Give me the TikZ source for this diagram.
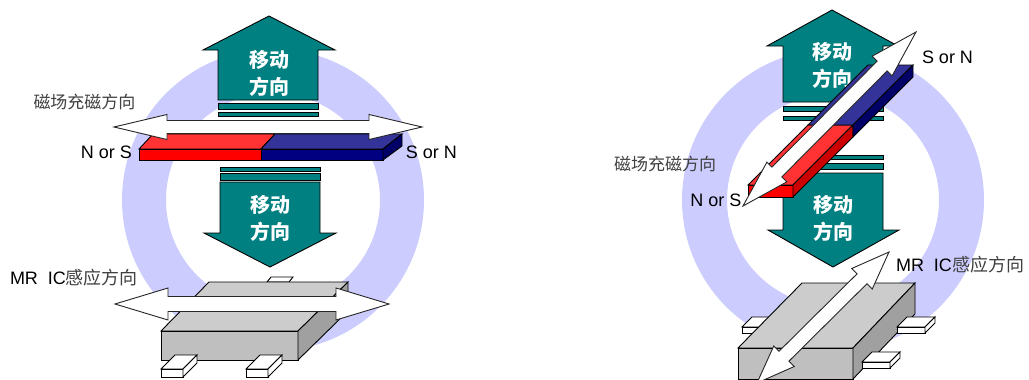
\documentclass[tikz,border=0pt]{standalone}
\usepackage{fontspec}
\setmainfont{Liberation Sans}
\newfontfamily\cjk{Noto Sans CJK SC}
\usepackage{tikz}
\usetikzlibrary{positioning,calc}
\usepackage{xcolor}

\definecolor{ringcol}{HTML}{CCCCFF}
\definecolor{movecol}{HTML}{008080}
\definecolor{redtop}{HTML}{FF3333}
\definecolor{redfront}{HTML}{FF0000}
\definecolor{redside}{HTML}{CC0000}
\definecolor{bluetop}{HTML}{333399}
\definecolor{bluefront}{HTML}{000080}
\definecolor{blueside}{HTML}{000066}
\definecolor{ictop}{HTML}{CCCCCC}
\definecolor{icfront}{HTML}{BFBFBF}
\definecolor{icside}{HTML}{A0A0A0}

\tikzset{
    edge/.style={draw=black, line width=0.9pt, line join=miter},
    movebox/.style={edge, fill=movecol},
    movetext/.style={text=white, align=center, font=\cjk\bfseries\fontsize{20}{27}\selectfont},
    bothway/.style={draw=black!85, fill=white, line width=0.9pt, line join=miter},
    pole/.style={text=black, font=\fontsize{18}{20}\selectfont},
    dirlabel/.style={text=black!75, font=\cjk\fontsize{17}{20}\selectfont},
    pinbox/.style={edge, fill=white}
}

% white double arrow between two named points
\newcommand{\twoway}[5]{%
    \draw[bothway] (#1)
        -- ($(#1)!#3!(#2)!#4!90:(#2)$) -- ($(#1)!#3!(#2)!#5!90:(#2)$)
        -- ($(#2)!#3!(#1)!#5!-90:(#1)$) -- ($(#2)!#3!(#1)!#4!-90:(#1)$)
        -- (#2)
        -- ($(#2)!#3!(#1)!#4!90:(#1)$) -- ($(#2)!#3!(#1)!#5!90:(#1)$)
        -- ($(#1)!#3!(#2)!#5!-90:(#2)$) -- ($(#1)!#3!(#2)!#4!-90:(#2)$)
        -- cycle;}

\begin{document}
\begin{tikzpicture}[x=1pt,y=-1pt]
    \useasboundingbox (0,0) rectangle (1029,380);
    \clip (0,0) rectangle (1029,380);
    \fill[white] (0,0) rectangle (1029,380);

    % rings
    \fill[ringcol, even odd rule] (273,200) circle[radius=151] circle[radius=107];
    \fill[ringcol, even odd rule] (833,200) circle[radius=151] circle[radius=106];

    % left: moving direction
    \draw[movebox] (218,100) -- (218,50) -- (203,50) -- (269,16) -- (335,50) -- (318,50) -- (318,100) -- cycle;
    \draw[movebox] (218,103) rectangle (318,109);
    \draw[movebox] (218,112) rectangle (318,116);
    \node[movetext] (lup) at (269,73.5) {移动\\方向};
    \draw[movebox] (220,167) rectangle (320,171);
    \draw[movebox] (220,173) rectangle (320,180);
    \draw[movebox] (220,182) -- (320,182) -- (320,233) -- (336,233) -- (270,267) -- (204,233) -- (220,233) -- cycle;
    \node[movetext] (ldown) at (270,218) {移动\\方向};

    % left: magnet
    \draw[edge, fill=redtop] (139,149) -- (153,134) -- (275,134) -- (261,149) -- cycle;
    \draw[edge, fill=bluetop] (261,149) -- (275,134) -- (402,134) -- (383,149) -- cycle;
    \draw[edge, fill=redfront] (139,149) rectangle (261,160);
    \draw[edge, fill=bluefront] (261,149) rectangle (383,160);
    \draw[edge, fill=blueside] (383,149) -- (402,134) -- (402,146) -- (383,160) -- cycle;
    \coordinate (lmagA) at (114,127);
    \coordinate (lmagB) at (422,127);
    \twoway{lmagA}{lmagB}{53pt}{12.5pt}{6.5pt}

    % left: MR IC
    \draw[pinbox] (267,282) -- (271,277) -- (293,277) -- (289,282) -- cycle;
    \draw[edge, fill=ictop] (161,331) -- (209,282) -- (348,282) -- (298,331) -- cycle;
    \draw[edge, fill=icfront] (161,331) rectangle (298,360);
    \draw[edge, fill=icside] (298,331) -- (348,282) -- (348,311) -- (298,360) -- cycle;
    \foreach \x in {161,246} {
        \draw[pinbox] (\x,369) -- (\x+14,355) -- (\x+36,355) -- (\x+22,369) -- cycle;
        \draw[pinbox] (\x,369) rectangle (\x+22,377);
        \draw[pinbox] (\x+22,369) -- (\x+36,355) -- (\x+36,363) -- (\x+22,377) -- cycle;
    }
    \coordinate (licA) at (115,304);
    \coordinate (licB) at (389,304);
    \twoway{licA}{licB}{53pt}{16pt}{7.5pt}

    \node[dirlabel] (lfield) at (84.5,102) {磁场充磁方向};
    \node[pole] (lns) at (106.5,152) {N or S};
    \node[pole] (lsn) at (431.5,152) {S or N};
    \node[pole] (lsense) at (74,278) {MR\ \ IC{\color{black!75}\cjk 感应方向}};

    % right: moving direction
    \draw[movebox] (783,102) -- (783,46) -- (767,46) -- (832,10) -- (898,46) -- (883,46) -- (883,102) -- cycle;
    \draw[movebox] (783,106) rectangle (883,111);
    \draw[movebox] (783,116) rectangle (883,120);
    \node[movetext] (rup) at (832,65) {移动\\方向};
    \draw[movebox] (783,155) rectangle (883,159);
    \draw[movebox] (783,163) rectangle (883,169);
    \draw[movebox] (783,173) -- (883,173) -- (883,230) -- (899,230) -- (833,267) -- (768,230) -- (783,230) -- cycle;
    \node[movetext] (rdown) at (833,218) {移动\\方向};

    % right: magnet
    \draw[edge, fill=redtop] (748,185) -- (808,125) -- (853,125) -- (793,185) -- cycle;
    \draw[edge, fill=bluetop] (808,125) -- (868,65) -- (913,65) -- (853,125) -- cycle;
    \draw[edge, fill=redfront] (748,185) rectangle (793,197);
    \draw[edge, fill=redside] (793,185) -- (853,125) -- (853,137) -- (793,197) -- cycle;
    \draw[edge, fill=blueside] (853,125) -- (913,65) -- (913,77) -- (853,137) -- cycle;
    \coordinate (rmagA) at (743,206);
    \coordinate (rmagB) at (916,32);
    \twoway{rmagA}{rmagB}{48pt}{14pt}{7pt}

    % right: MR IC
    \draw[pinbox] (742,327) -- (752,317) -- (790,317) -- (780,327) -- cycle;
    \draw[pinbox] (742,327) rectangle (780,333);
    \draw[edge, fill=ictop] (738,348) -- (802,283) -- (915,283) -- (853,348) -- cycle;
    \draw[edge, fill=icfront] (738,348) rectangle (853,379);
    \draw[edge, fill=icside] (853,348) -- (915,283) -- (915,314) -- (853,379) -- cycle;
    \foreach \x/\y in {897/327,862/362} {
        \draw[pinbox] (\x,\y) -- (\x+10,\y-10) -- (\x+38,\y-10) -- (\x+28,\y) -- cycle;
        \draw[pinbox] (\x,\y) rectangle (\x+28,\y+6);
        \draw[pinbox] (\x+28,\y) -- (\x+38,\y-10) -- (\x+38,\y-4) -- (\x+28,\y+6) -- cycle;
    }
    \coordinate (ricA) at (757,383);
    \coordinate (ricB) at (889,252);
    \twoway{ricA}{ricB}{38pt}{14.5pt}{7pt}

    \node[pole] (rsn) at (947.5,57) {S or N};
    \node[dirlabel] (rfield) at (665,164) {磁场充磁方向};
    \node[pole] (rns) at (716,200) {N or S};
    \node[pole] (rsense) at (960,265) {MR\ \ IC{\color{black!75}\cjk 感应方向}};
\end{tikzpicture}
\end{document}
